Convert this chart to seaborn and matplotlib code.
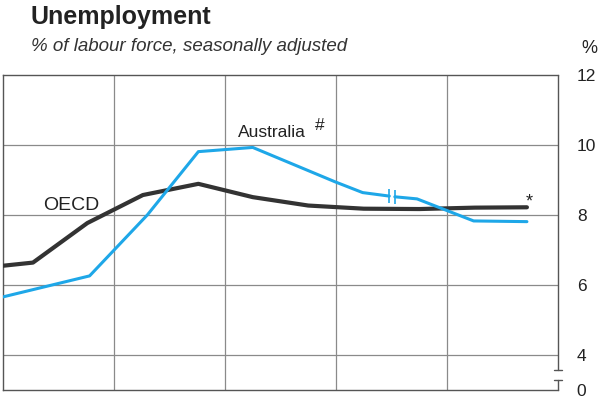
import pandas as pd
import matplotlib
matplotlib.use('Agg')
import matplotlib.pyplot as plt
import seaborn as sns

# Unemployment, % of labour force, seasonally adjusted

oecd_year = [1981.0, 1981.27, 1981.76, 1982.26, 1982.76, 1983.25, 1983.75, 1984.25, 1984.75, 1985.25, 1985.72]
oecd_rate = [6.55, 6.64, 7.77, 8.57, 8.89, 8.51, 8.27, 8.18, 8.17, 8.21, 8.22]

aus_year_old = [1981.0, 1981.78, 1982.30, 1982.76, 1983.25, 1983.99, 1984.24, 1984.48]
aus_rate_old = [5.66, 6.26, 8.00, 9.81, 9.93, 8.95, 8.64, 8.54]
aus_year_new = [1984.53, 1984.73, 1985.24, 1985.72]
aus_rate_new = [8.52, 8.46, 7.83, 7.81]

ytick_vals = [3, 4, 6, 8, 10, 12]
ytick_labels = ['0', '4', '6', '8', '10', '12']
xgrid_years = [1982, 1983, 1984, 1985]

oecd = pd.DataFrame({'year': oecd_year, 'rate': oecd_rate})
aus_old = pd.DataFrame({'year': aus_year_old, 'rate': aus_rate_old})
aus_new = pd.DataFrame({'year': aus_year_new, 'rate': aus_rate_new})

sns.set_style('white')
plt.rcParams['font.family'] = ['Liberation Sans', 'DejaVu Sans']

blue = '#1ea7e8'
dark = '#333333'
grid = '#8a8a8a'

fig = plt.figure(figsize=(6, 3.98), dpi=100)
ax = fig.add_axes([0.005, 0.0201, 0.925, 0.7915])

for y in [4, 6, 8, 10]:
    ax.axhline(y, color=grid, lw=0.9, zorder=0)
for x in xgrid_years:
    ax.axvline(x, color=grid, lw=0.9, zorder=0)

sns.lineplot(data=oecd, x='year', y='rate', color=dark, lw=3.0, ax=ax, zorder=3)
sns.lineplot(data=aus_old, x='year', y='rate', color=blue, lw=2.2, ax=ax, zorder=4)
sns.lineplot(data=aus_new, x='year', y='rate', color=blue, lw=2.2, ax=ax, zorder=4)
# break markers in the Australian series
ax.plot(aus_old['year'].iloc[-1], aus_old['rate'].iloc[-1], marker='|', ms=10, mew=1.2, color=blue, zorder=5)
ax.plot(aus_new['year'].iloc[0], aus_new['rate'].iloc[0], marker='|', ms=10, mew=1.2, color=blue, zorder=5)

ax.set_xlim(1981, 1986)
ax.set_ylim(3, 12)
ax.set_xlabel('')
ax.set_ylabel('')
ax.set_xticks([])
ax.yaxis.tick_right()
ax.set_yticks(ytick_vals)
ax.set_yticklabels(ytick_labels)
ax.tick_params(axis='y', length=0, pad=13.5, labelsize=12.5, labelcolor='#222222')

for s in ['left', 'top', 'bottom']:
    ax.spines[s].set_color('#555555')
    ax.spines[s].set_linewidth(1.0)
ax.spines['right'].set_visible(False)

# broken right axis
brk_hi, brk_lo = 3.57, 3.29
ax.plot([1986, 1986], [12, brk_hi], color='#555555', lw=1.0, clip_on=False)
ax.plot([1986, 1986], [brk_lo, 3], color='#555555', lw=1.0, clip_on=False)
ax.plot([1985.965, 1986.035], [brk_hi, brk_hi], color='#555555', lw=1.0, clip_on=False)
ax.plot([1985.965, 1986.035], [brk_lo, brk_lo], color='#555555', lw=1.0, clip_on=False)

ax.text(1983.12, 10.23, 'Australia', fontsize=12.5, color='#222222', ha='left', va='baseline')
ax.text(1983.81, 10.42, '#', fontsize=12.5, color='#222222', ha='left', va='baseline')
ax.text(1981.36, 8.14, 'OECD', fontsize=14, color='#222222', ha='left', va='baseline')
ax.text(1985.71, 8.24, '*', fontsize=13, color='#222222', ha='left', va='baseline')

fig.text(0.051, 0.94, 'Unemployment', fontsize=18, fontweight='bold', color='#222222')
fig.text(0.052, 0.872, '% of labour force, seasonally adjusted', fontsize=13.5, style='italic', color='#333333')
fig.text(0.969, 0.866, '%', fontsize=13, color='#222222')

fig.savefig('out.png', dpi=100)
